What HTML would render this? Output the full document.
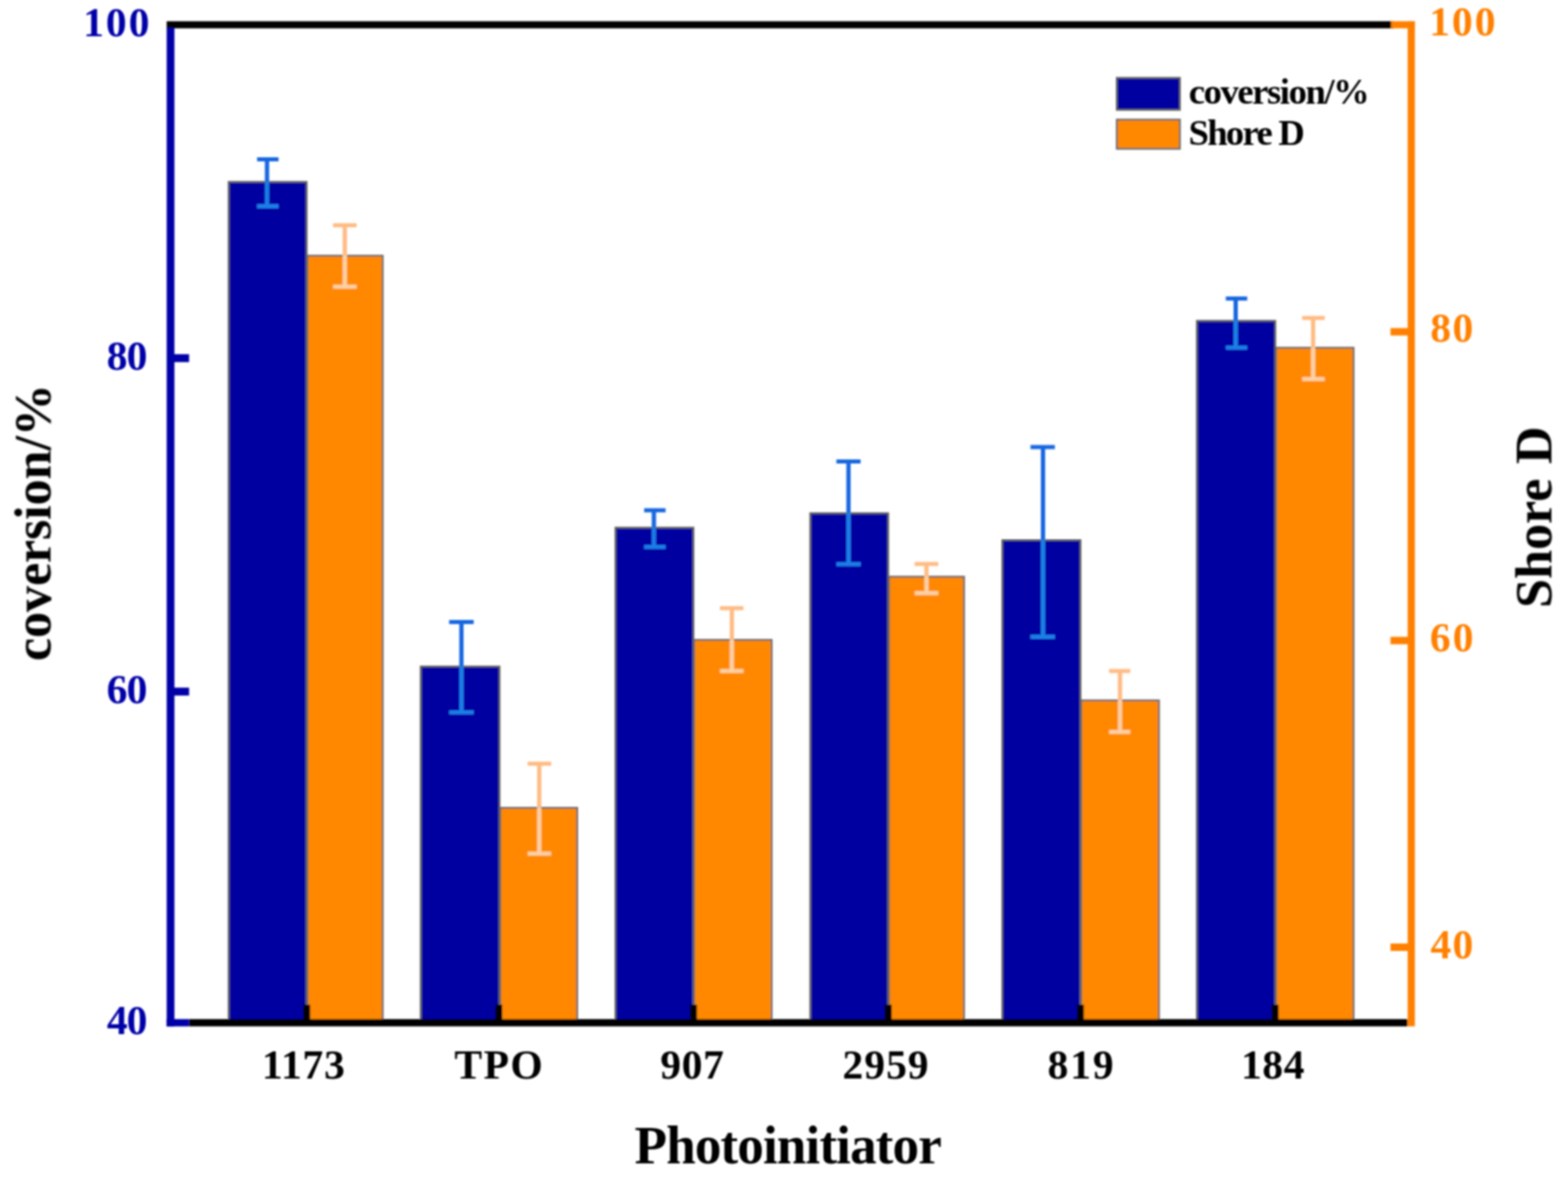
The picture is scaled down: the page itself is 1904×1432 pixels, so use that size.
<!DOCTYPE html>
<html lang="en"><head><meta charset="utf-8"><title>Photoinitiator chart</title>
<style>html,body{margin:0;padding:0;background:#fff}body{width:1904px;height:1432px;overflow:hidden}svg{display:block}text{font-family:"Liberation Serif","Times New Roman",serif;font-weight:bold}</style></head><body>
<svg width="1904" height="1432" viewBox="0 0 1904 1432">
<defs><filter id="soft" x="-5%" y="-5%" width="110%" height="110%"><feGaussianBlur stdDeviation="0.85"/></filter><filter id="tsoft" x="-5%" y="-5%" width="110%" height="110%"><feGaussianBlur stdDeviation="1.15"/></filter></defs>
<rect width="1904" height="1432" fill="#ffffff"/>
<g filter="url(#soft)">
<rect x="277.7" y="220.9" width="94.6" height="1021.1" fill="#0000A0" stroke="#62625c" stroke-width="2.2"/>
<rect x="373.3" y="310.6" width="91.4" height="931.4" fill="#FF8800" stroke="#6a6a6c" stroke-width="2.2"/>
<rect x="510.9" y="809.6" width="95.6" height="432.4" fill="#0000A0" stroke="#62625c" stroke-width="2.2"/>
<rect x="607.5" y="981.2" width="93.4" height="260.8" fill="#FF8800" stroke="#6a6a6c" stroke-width="2.2"/>
<rect x="747.4" y="640.9" width="94.6" height="601.1" fill="#0000A0" stroke="#62625c" stroke-width="2.2"/>
<rect x="843.0" y="777.2" width="94.0" height="464.8" fill="#FF8800" stroke="#6a6a6c" stroke-width="2.2"/>
<rect x="983.9" y="623.4" width="94.6" height="618.6" fill="#0000A0" stroke="#62625c" stroke-width="2.2"/>
<rect x="1079.5" y="700.5" width="91.1" height="541.5" fill="#FF8800" stroke="#6a6a6c" stroke-width="2.2"/>
<rect x="1217.1" y="656.1" width="94.9" height="585.9" fill="#0000A0" stroke="#62625c" stroke-width="2.2"/>
<rect x="1313.0" y="850.7" width="94.3" height="391.3" fill="#FF8800" stroke="#6a6a6c" stroke-width="2.2"/>
<rect x="1453.4" y="389.7" width="95.1" height="852.3" fill="#0000A0" stroke="#62625c" stroke-width="2.2"/>
<rect x="1549.5" y="422.4" width="94.1" height="819.6" fill="#FF8800" stroke="#6a6a6c" stroke-width="2.2"/>
<path d="M324.2 193.5V220.3" stroke="#1566E0" stroke-width="5.2" fill="none"/>
<path d="M324.2 220.3V250.5" stroke="#1F7EE8" stroke-width="5.2" fill="none"/>
<path d="M312.2 193.5H338.2" stroke="#1566E0" stroke-width="5.0" fill="none"/>
<path d="M312.2 250.5H338.2" stroke="#1F7EE8" stroke-width="5.0" fill="none"/>
<path d="M418.7 273.6V310.0" stroke="#FFBC84" stroke-width="5.2" fill="none"/>
<path d="M418.7 310.0V348.2" stroke="#FFD0A2" stroke-width="5.2" fill="none"/>
<path d="M404.4 273.6H433.0" stroke="#FFBC84" stroke-width="5.0" fill="none"/>
<path d="M404.4 348.2H433.0" stroke="#FFD0A2" stroke-width="5.0" fill="none"/>
<path d="M560.3 755.5V809.0" stroke="#1566E0" stroke-width="5.2" fill="none"/>
<path d="M560.3 809.0V865.2" stroke="#1F7EE8" stroke-width="5.2" fill="none"/>
<path d="M545.4 755.5H575.2" stroke="#1566E0" stroke-width="5.0" fill="none"/>
<path d="M545.4 865.2H575.2" stroke="#1F7EE8" stroke-width="5.0" fill="none"/>
<path d="M654.8 927.6V980.6" stroke="#FFBC84" stroke-width="5.2" fill="none"/>
<path d="M654.8 980.6V1036.8" stroke="#FFD0A2" stroke-width="5.2" fill="none"/>
<path d="M640.7 927.6H669.3" stroke="#FFBC84" stroke-width="5.0" fill="none"/>
<path d="M640.7 1036.8H669.3" stroke="#FFD0A2" stroke-width="5.0" fill="none"/>
<path d="M794.0 619.8V640.3" stroke="#1566E0" stroke-width="5.2" fill="none"/>
<path d="M794.0 640.3V664.3" stroke="#1F7EE8" stroke-width="5.2" fill="none"/>
<path d="M782.2 619.8H808.2" stroke="#1566E0" stroke-width="5.0" fill="none"/>
<path d="M782.2 664.3H808.2" stroke="#1F7EE8" stroke-width="5.0" fill="none"/>
<path d="M888.7 738.7V776.6" stroke="#FFBC84" stroke-width="5.2" fill="none"/>
<path d="M888.7 776.6V815.0" stroke="#FFD0A2" stroke-width="5.2" fill="none"/>
<path d="M874.2 738.7H902.8" stroke="#FFBC84" stroke-width="5.0" fill="none"/>
<path d="M874.2 815.0H902.8" stroke="#FFD0A2" stroke-width="5.0" fill="none"/>
<path d="M1030.3 560.5V622.8" stroke="#1566E0" stroke-width="5.2" fill="none"/>
<path d="M1030.3 622.8V685.2" stroke="#1F7EE8" stroke-width="5.2" fill="none"/>
<path d="M1015.6 560.5H1045.0" stroke="#1566E0" stroke-width="5.0" fill="none"/>
<path d="M1015.6 685.2H1045.0" stroke="#1F7EE8" stroke-width="5.0" fill="none"/>
<path d="M1125.0 685.0V699.9" stroke="#FFBC84" stroke-width="5.2" fill="none"/>
<path d="M1125.0 699.9V720.4" stroke="#FFD0A2" stroke-width="5.2" fill="none"/>
<path d="M1110.6 685.0H1139.4" stroke="#FFBC84" stroke-width="5.0" fill="none"/>
<path d="M1110.6 720.4H1139.4" stroke="#FFD0A2" stroke-width="5.0" fill="none"/>
<path d="M1266.5 543.0V655.5" stroke="#1566E0" stroke-width="5.2" fill="none"/>
<path d="M1266.5 655.5V773.5" stroke="#1F7EE8" stroke-width="5.2" fill="none"/>
<path d="M1251.3 543.0H1280.9" stroke="#1566E0" stroke-width="5.0" fill="none"/>
<path d="M1251.3 773.5H1280.9" stroke="#1F7EE8" stroke-width="5.0" fill="none"/>
<path d="M1360.0 815.0V850.1" stroke="#FFBC84" stroke-width="5.2" fill="none"/>
<path d="M1360.0 850.1V889.0" stroke="#FFD0A2" stroke-width="5.2" fill="none"/>
<path d="M1346.7 815.0H1372.5" stroke="#FFBC84" stroke-width="5.0" fill="none"/>
<path d="M1346.7 889.0H1372.5" stroke="#FFD0A2" stroke-width="5.0" fill="none"/>
<path d="M1500.5 362.6V389.1" stroke="#1566E0" stroke-width="5.2" fill="none"/>
<path d="M1500.5 389.1V422.2" stroke="#1F7EE8" stroke-width="5.2" fill="none"/>
<path d="M1488.5 362.6H1514.5" stroke="#1566E0" stroke-width="5.0" fill="none"/>
<path d="M1488.5 422.2H1514.5" stroke="#1F7EE8" stroke-width="5.0" fill="none"/>
<path d="M1594.5 386.2V421.8" stroke="#FFBC84" stroke-width="5.2" fill="none"/>
<path d="M1594.5 421.8V460.4" stroke="#FFD0A2" stroke-width="5.2" fill="none"/>
<path d="M1581.2 386.2H1608.6" stroke="#FFBC84" stroke-width="5.0" fill="none"/>
<path d="M1581.2 460.4H1608.6" stroke="#FFD0A2" stroke-width="5.0" fill="none"/>
<rect x="202.4" y="25.8" width="1490" height="8.6" fill="#000"/>
<rect x="1689.2" y="25.8" width="28.9" height="8.6" fill="#FF8000"/>
<rect x="229.4" y="1237.8" width="1480" height="8.8" fill="#000"/>
<rect x="202.4" y="1237.8" width="27" height="8.8" fill="#0500A8"/>
<rect x="202.4" y="34.0" width="9.4" height="1212.6" fill="#0500A8"/>
<rect x="1709.3" y="25.8" width="8.8" height="1220.8" fill="#FF8000"/>
<rect x="210" y="430.2" width="19.6" height="9.6" fill="#0500A8"/>
<rect x="210" y="835.2" width="19.6" height="9.6" fill="#0500A8"/>
<rect x="1688.5" y="398.5" width="22" height="9.0" fill="#FF8000"/>
<rect x="1688.5" y="773.5" width="22" height="9.0" fill="#FF8000"/>
<rect x="1688.5" y="1146.0" width="22" height="9.0" fill="#FF8000"/>
<rect x="368.2" y="1220.4" width="8.4" height="20" fill="#000"/>
<rect x="601.6" y="1220.4" width="8.4" height="20" fill="#000"/>
<rect x="837.9" y="1220.4" width="8.4" height="20" fill="#000"/>
<rect x="1074.4" y="1220.4" width="8.4" height="20" fill="#000"/>
<rect x="1307.8" y="1220.4" width="8.4" height="20" fill="#000"/>
<rect x="1544.1" y="1220.4" width="8.4" height="20" fill="#000"/>
</g><g filter="url(#tsoft)">
<text y="43.5" font-size="50.5" fill="#0500A8"><tspan x="100.96" letter-spacing="2.41">100</tspan></text>
<text y="449.3" font-size="50.5" fill="#0500A8"><tspan x="129.52" letter-spacing="-0.90">80</tspan></text>
<text y="853.6" font-size="50.5" fill="#0500A8"><tspan x="129.47" letter-spacing="-0.85">60</tspan></text>
<text y="1255.6" font-size="50.5" fill="#0500A8"><tspan x="129.81" letter-spacing="-1.29">40</tspan></text>
<text y="43.4" font-size="50.5" fill="#FF8000"><tspan x="1735.46" letter-spacing="2.41">100</tspan></text>
<text y="415.1" font-size="50.5" fill="#FF8000"><tspan x="1736.82" letter-spacing="1.70">80</tspan></text>
<text y="791.2" font-size="50.5" fill="#FF8000"><tspan x="1736.27" letter-spacing="2.45">60</tspan></text>
<text y="1163.6" font-size="50.5" fill="#FF8000"><tspan x="1736.91" letter-spacing="1.61">40</tspan></text>
<text y="1309.7" font-size="50.5" fill="#000"><tspan x="318.06" letter-spacing="0.79">1173</tspan></text>
<text y="1309.7" font-size="50.5" fill="#000"><tspan x="551.81" letter-spacing="1.72">TPO</tspan></text>
<text y="1309.7" font-size="50.5" fill="#000"><tspan x="801.82" letter-spacing="0.73">907</tspan></text>
<text y="1309.7" font-size="50.5" fill="#000"><tspan x="1023.08" letter-spacing="1.15">2959</tspan></text>
<text y="1309.7" font-size="50.5" fill="#000"><tspan x="1272.02" letter-spacing="2.23">819</tspan></text>
<text y="1309.7" font-size="50.5" fill="#000"><tspan x="1507.06" letter-spacing="0.57">184</tspan></text>
<text y="1412.8" font-size="64.5" fill="#000"><tspan x="770.60" letter-spacing="-1.08">Photoinitiator</tspan></text>
<text transform="translate(61.3 801.2) rotate(-90)" y="0" font-size="63.5" fill="#000"><tspan x="-1.67" letter-spacing="-0.21">coversion/%</tspan></text>
<text transform="translate(1883.8 735.7) rotate(-90)" y="0" font-size="63.5" fill="#000"><tspan x="-2.88" letter-spacing="-0.06">Shore</tspan> <tspan x="171.91" letter-spacing="0.00">D</tspan></text>
</g><g filter="url(#soft)">
<rect x="1356.1" y="94.6" width="76.6" height="38.8" fill="#0000A0" stroke="#62625c" stroke-width="2.2"/>
<rect x="1356.1" y="145.3" width="76.6" height="35.4" fill="#FF8800" stroke="#6a6a6c" stroke-width="2.2"/>
</g><g filter="url(#tsoft)">
<text y="125.7" font-size="44.5" fill="#000"><tspan x="1443.38" letter-spacing="-1.73">coversion/%</tspan></text>
<text y="176.3" font-size="44.5" fill="#000"><tspan x="1443.23" letter-spacing="-2.06">Shore</tspan> <tspan x="1552.18" letter-spacing="0.00">D</tspan></text>
</g></svg></body></html>
